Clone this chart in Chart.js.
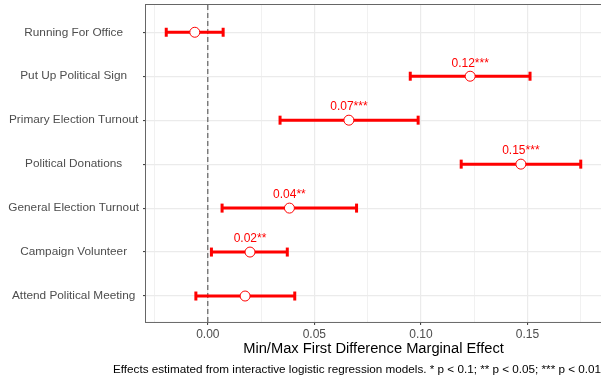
<!DOCTYPE html>
<html>
<head>
<meta charset="utf-8">
<script src="https://cdn.jsdelivr.net/npm/chart.js@4"></script>
<style>
  html, body { margin: 0; padding: 0; background: #fff; }
  #wrap { width: 601px; height: 381px; }
</style>
</head>
<body>
<div id="wrap"><canvas id="effects"></canvas></div>
<script>
// outcomes, top to bottom
const outcomes = [
  "Running For Office",
  "Put Up Political Sign",
  "Primary Election Turnout",
  "Political Donations",
  "General Election Turnout",
  "Campaign Volunteer",
  "Attend Political Meeting"
];
const estimate = [-0.0061, 0.1231, 0.0662, 0.1469, 0.0383, 0.0198, 0.0175];
const lower    = [-0.0195, 0.0950, 0.0339, 0.1189, 0.0067, 0.0017, -0.0056];
const upper    = [ 0.0072, 0.1512, 0.0987, 0.1750, 0.0698, 0.0373,  0.0408];
const stars    = ["", "***", "***", "***", "**", "**", ""];

const xMajorTicks = [0, 0.05, 0.10, 0.15];
const xMinorTicks = [-0.025, 0.025, 0.075, 0.125, 0.175];
const X_MIN = -0.029, X_MAX = 0.1845;
const Y_MIN = -0.62, Y_MAX = outcomes.length - 0.41;

const RED = "#FF0000";
const isMajor = v => xMajorTicks.some(t => Math.abs(t - v) < 1e-9);

Chart.defaults.font.family = "'Liberation Sans', Arial, sans-serif";

// confidence interval bars with end caps
const ciSets = outcomes.map((name, i) => ({
  label: name,
  data: [{ x: lower[i], y: i }, { x: upper[i], y: i }],
  showLine: true,
  borderColor: RED,
  borderWidth: 3,
  pointStyle: "line",
  pointRotation: 90,
  pointRadius: 4.5,
  pointBorderColor: RED,
  pointBorderWidth: 3,
  order: 1
}));

// significance labels above the estimates
const starLabels = {
  id: "starLabels",
  afterDatasetsDraw(chart) {
    const { ctx, scales: { x, y } } = chart;
    ctx.save();
    ctx.fillStyle = RED;
    ctx.font = "12px 'Liberation Sans', Arial, sans-serif";
    ctx.textAlign = "center";
    ctx.textBaseline = "middle";
    estimate.forEach((v, i) => {
      if (!stars[i]) return;
      ctx.fillText(v.toFixed(2) + stars[i], x.getPixelForValue(v), y.getPixelForValue(i) - 13);
    });
    ctx.restore();
  }
};

// panel border
const panelFrame = {
  id: "panelFrame",
  afterDraw(chart) {
    const { ctx, chartArea: a } = chart;
    ctx.save();
    ctx.strokeStyle = "#666666";
    ctx.lineWidth = 1;
    ctx.strokeRect(a.left - 0.5, a.top - 0.5, a.right - a.left + 1, a.bottom - a.top + 1);
    ctx.restore();
  }
};

new Chart(document.getElementById("effects"), {
  type: "scatter",
  data: {
    datasets: [
      {
        label: "estimate",
        data: estimate.map((v, i) => ({ x: v, y: i })),
        pointRadius: 5,
        pointBackgroundColor: "#FFFFFF",
        pointBorderColor: RED,
        pointBorderWidth: 1,
        order: 0
      },
      ...ciSets,
      {
        label: "zero",
        data: [{ x: 0, y: Y_MIN }, { x: 0, y: Y_MAX }],
        showLine: true,
        borderColor: "#555555",
        borderWidth: 1.1,
        borderDash: [5, 3],
        pointRadius: 0,
        order: 2
      }
    ]
  },
  options: {
    responsive: true,
    maintainAspectRatio: false,
    animation: false,
    layout: { autoPadding: false, padding: { top: 5, right: 0, bottom: 0, left: 0 } },
    plugins: {
      legend: { display: false },
      tooltip: { enabled: false },
      title: {
        display: true,
        position: "bottom",
        align: "end",
        text: "Effects estimated from interactive logistic regression models. * p < 0.1; ** p < 0.05; *** p < 0.01",
        color: "#000000",
        font: { size: 11.7, weight: "normal" },
        padding: { top: 4, bottom: 4 }
      }
    },
    scales: {
      x: {
        type: "linear",
        min: X_MIN,
        max: X_MAX,
        afterBuildTicks: s => {
          s.ticks = [...xMinorTicks, ...xMajorTicks].sort((a, b) => a - b).map(v => ({ value: v }));
        },
        afterFit: s => {
          s.height = 37;
          s.paddingLeft = 0;
          s.paddingRight = 0;
        },
        border: { display: false },
        grid: {
          color: "#EBEBEB",
          lineWidth: c => (isMajor(c.tick.value) ? 1.2 : 0.7),
          tickLength: 3,
          tickColor: c => (isMajor(c.tick.value) ? "#333333" : "rgba(0,0,0,0)"),
          tickWidth: 1
        },
        ticks: {
          autoSkip: false,
          maxRotation: 0,
          padding: 3,
          color: "#4D4D4D",
          font: { size: 12 },
          callback: v => (isMajor(v) ? v.toFixed(2) : "")
        },
        title: {
          display: true,
          text: "Min/Max First Difference Marginal Effect",
          color: "#000000",
          font: { size: 14.7 },
          padding: { top: 0, bottom: 1 }
        }
      },
      y: {
        type: "linear",
        reverse: true,
        min: Y_MIN,
        max: Y_MAX,
        afterBuildTicks: s => {
          s.ticks = outcomes.map((_, i) => ({ value: i }));
        },
        afterFit: s => {
          s.width = 146;
          s.paddingTop = 0;
          s.paddingBottom = 0;
        },
        border: { display: false },
        grid: {
          color: "#EBEBEB",
          lineWidth: 1.2,
          tickLength: 3,
          tickColor: "#333333",
          tickWidth: 1
        },
        ticks: {
          autoSkip: false,
          padding: 4,
          crossAlign: "center",
          color: "#4D4D4D",
          font: { size: 11.8 },
          callback: v => outcomes[v]
        }
      }
    }
  },
  plugins: [starLabels, panelFrame]
});
</script>
</body>
</html>
